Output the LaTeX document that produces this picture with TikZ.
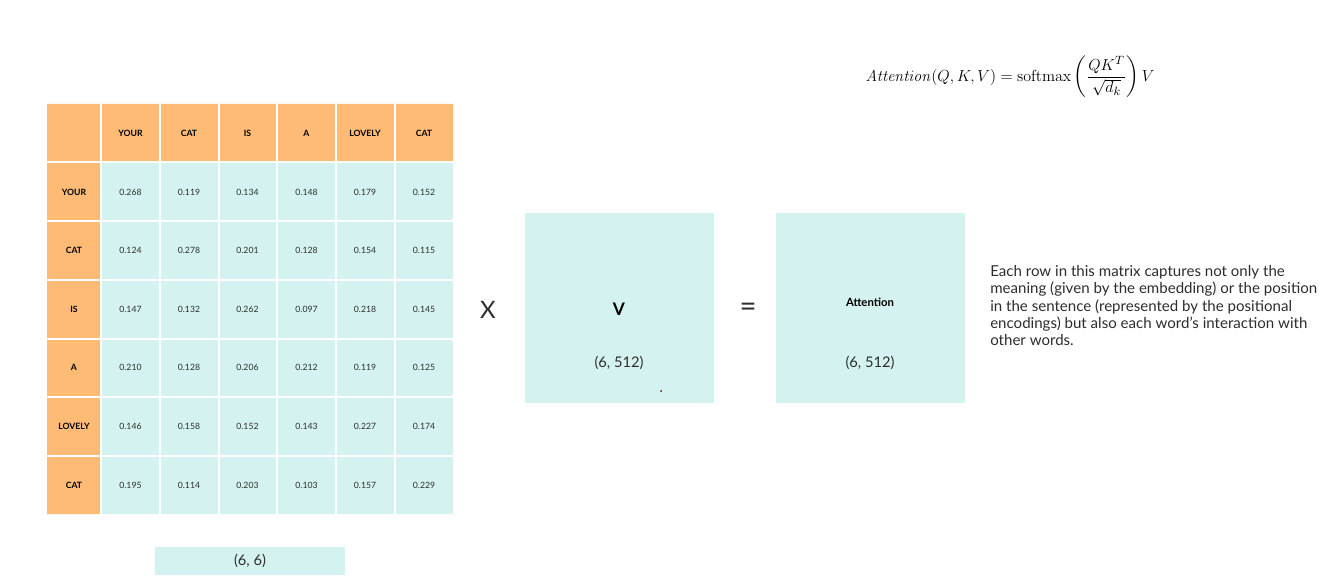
\documentclass[tikz,border=0pt]{standalone}
\usepackage{amsmath}
\usepackage{amssymb}
\usepackage[no-math]{fontspec}
\setmainfont{Lato}
\usepackage{tikz}

\definecolor{hdrorange}{RGB}{253,187,117}
\definecolor{cellcyan}{RGB}{212,243,240}
\definecolor{inktext}{RGB}{45,45,45}

\tikzset{
  hdr/.style={inner sep=0.75pt, font=\fontsize{6.5}{7.5}\selectfont\bfseries, text=black},
  val/.style={inner sep=0.75pt, font=\fontsize{6.5}{7.5}\selectfont, text=inktext},
  dimlbl/.style={inner sep=0.75pt, font=\fontsize{11}{13}\selectfont, text=inktext},
  gridline/.style={draw=white, line width=1.1pt},
}

\begin{document}
\begin{tikzpicture}[x=0.75pt,y=0.75pt,yscale=-1,xscale=1]
\useasboundingbox (0,0) rectangle (1327,580);

%Shape: Rectangle [header row and column]
\draw [draw opacity=0][fill=hdrorange] (47,104) -- (453,104) -- (453,162) -- (101,162) -- (101,514) -- (47,514) -- cycle ;
%Shape: Rectangle [scores]
\draw [draw opacity=0][fill=cellcyan] (101,162) rectangle (453,514) ;
%Straight Lines [grid]
\draw [gridline] (101,104) -- (101,514) ;
\draw [gridline] (160,104) -- (160,514) ;
\draw [gridline] (219,104) -- (219,514) ;
\draw [gridline] (277,104) -- (277,514) ;
\draw [gridline] (336,104) -- (336,514) ;
\draw [gridline] (395,104) -- (395,514) ;
\draw [gridline] (47,162) -- (453,162) ;
\draw [gridline] (47,221) -- (453,221) ;
\draw [gridline] (47,280) -- (453,280) ;
\draw [gridline] (47,339) -- (453,339) ;
\draw [gridline] (47,397) -- (453,397) ;
\draw [gridline] (47,456) -- (453,456) ;

% Header row
\node [hdr] (h1) at (130.5,133) {YOUR};
\node [hdr] (h2) at (189,133) {CAT};
\node [hdr] (h3) at (247.5,133) {IS};
\node [hdr] (h4) at (306.5,133) {A};
\node [hdr] (h5) at (365,133) {LOVELY};
\node [hdr] (h6) at (424,133) {CAT};

% Header column
\node [hdr] (r1) at (74,192) {YOUR};
\node [hdr] (r2) at (74,250.5) {CAT};
\node [hdr] (r3) at (74,309) {IS};
\node [hdr] (r4) at (74,367.5) {A};
\node [hdr] (r5) at (74,426) {LOVELY};
\node [hdr] (r6) at (74,485) {CAT};

% Row YOUR
\node [val] (c11) at (130.5,192) {0.268};
\node [val] (c12) at (189,192) {0.119};
\node [val] (c13) at (247.5,192) {0.134};
\node [val] (c14) at (306.5,192) {0.148};
\node [val] (c15) at (365,192) {0.179};
\node [val] (c16) at (424,192) {0.152};
% Row CAT
\node [val] (c21) at (130.5,250.5) {0.124};
\node [val] (c22) at (189,250.5) {0.278};
\node [val] (c23) at (247.5,250.5) {0.201};
\node [val] (c24) at (306.5,250.5) {0.128};
\node [val] (c25) at (365,250.5) {0.154};
\node [val] (c26) at (424,250.5) {0.115};
% Row IS
\node [val] (c31) at (130.5,309) {0.147};
\node [val] (c32) at (189,309) {0.132};
\node [val] (c33) at (247.5,309) {0.262};
\node [val] (c34) at (306.5,309) {0.097};
\node [val] (c35) at (365,309) {0.218};
\node [val] (c36) at (424,309) {0.145};
% Row A
\node [val] (c41) at (130.5,367.5) {0.210};
\node [val] (c42) at (189,367.5) {0.128};
\node [val] (c43) at (247.5,367.5) {0.206};
\node [val] (c44) at (306.5,367.5) {0.212};
\node [val] (c45) at (365,367.5) {0.119};
\node [val] (c46) at (424,367.5) {0.125};
% Row LOVELY
\node [val] (c51) at (130.5,426) {0.146};
\node [val] (c52) at (189,426) {0.158};
\node [val] (c53) at (247.5,426) {0.152};
\node [val] (c54) at (306.5,426) {0.143};
\node [val] (c55) at (365,426) {0.227};
\node [val] (c56) at (424,426) {0.174};
% Row CAT
\node [val] (c61) at (130.5,485) {0.195};
\node [val] (c62) at (189,485) {0.114};
\node [val] (c63) at (247.5,485) {0.203};
\node [val] (c64) at (306.5,485) {0.103};
\node [val] (c65) at (365,485) {0.157};
\node [val] (c66) at (424,485) {0.229};

%Shape: Rectangle [size of scores]
\draw [draw opacity=0][fill=cellcyan] (155,547) rectangle (345,575) ;
\node [dimlbl] (scoresize) at (250,561) {(6, 6)};

% Operators
\node [inner sep=0.75pt, font=\fontsize{18}{20}\selectfont, text=inktext] (times) at (488,310) {X};
\node [inner sep=0.75pt, font=\fontsize{22}{24}\selectfont, text=inktext] (equals) at (748,310) {=};

%Shape: Rectangle [V]
\draw [draw opacity=0][fill=cellcyan] (525,213) rectangle (714,403) ;
\node [inner sep=0.75pt, font=\fontsize{13}{15}\selectfont\bfseries] (vname) at (619,309) {V};
\node [dimlbl] (vsize) at (619,363) {(6, 512)};
\fill [red!50!black] (661,391) circle [radius=1] ;

%Shape: Rectangle [Attention]
\draw [draw opacity=0][fill=cellcyan] (776,213) rectangle (965,403) ;
\node [inner sep=0.75pt, font=\fontsize{8.5}{10}\selectfont\bfseries] (attname) at (870,302) {Attention};
\node [dimlbl] (attsize) at (870,363) {(6, 512)};

% Formula
\node [inner sep=0.75pt, font=\fontsize{13}{15}\selectfont] (formula) at (1010,77)
  {$\mathit{Attention}(Q,K,V)=\operatorname{softmax}\left(\dfrac{QK^{T}}{\sqrt{d_k}}\right)V$};

% Text Node
\node [anchor=north west, inner sep=0pt, align=left, font=\fontsize{11.3}{13}\selectfont, text=inktext] (note) at (990,265)
  {Each row in this matrix captures not only the\\
   meaning (given by the embedding) or the position\\
   in the sentence (represented by the positional\\
   encodings) but also each word’s interaction with\\
   other words.};

\end{tikzpicture}
\end{document}
